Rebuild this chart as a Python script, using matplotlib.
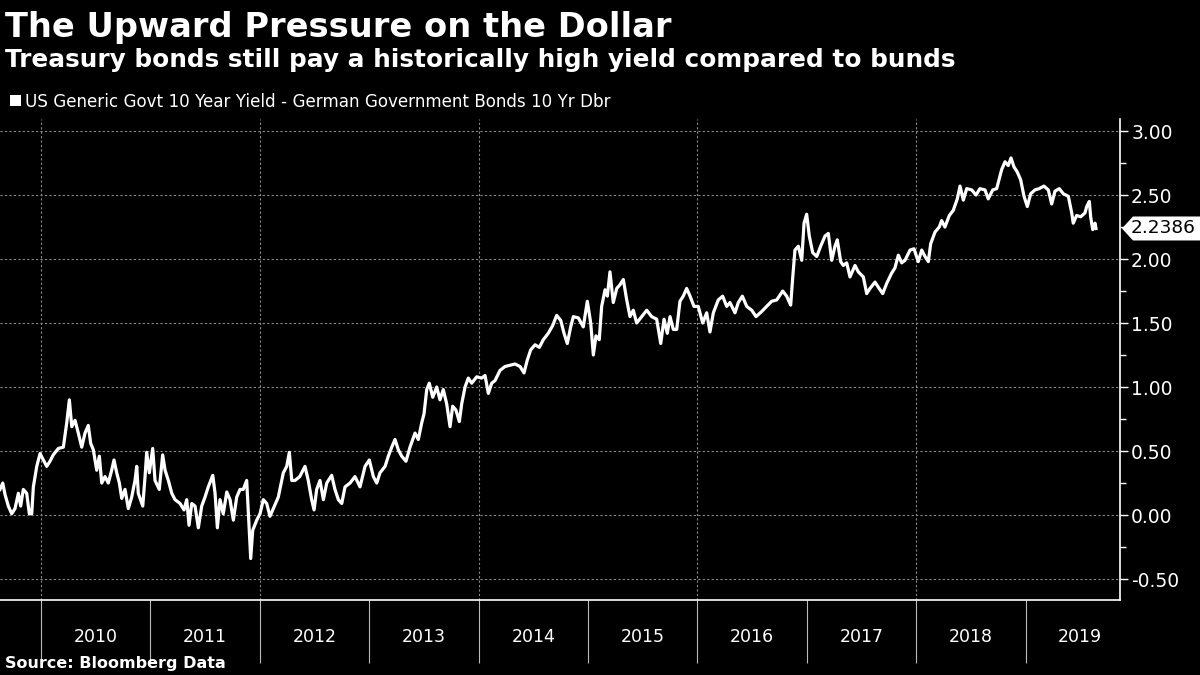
import matplotlib
matplotlib.use("Agg")
import matplotlib.pyplot as plt
import matplotlib.transforms as mtransforms
from matplotlib.patches import Polygon, Rectangle
from matplotlib.ticker import MultipleLocator, FixedLocator, NullFormatter

# spread in percentage points, x is decimal year
t = [2009.625, 2009.650, 2009.671, 2009.701, 2009.732, 2009.762, 2009.793, 2009.814, 2009.838, 2009.869,
     2009.893, 2009.915, 2009.930, 2009.961, 2009.991, 2010.021, 2010.052, 2010.082, 2010.112, 2010.158,
     2010.204, 2010.235, 2010.259, 2010.281, 2010.311, 2010.341, 2010.372, 2010.402, 2010.432, 2010.454,
     2010.478, 2010.509, 2010.533, 2010.555, 2010.585, 2010.615, 2010.646, 2010.667, 2010.692, 2010.716,
     2010.738, 2010.768, 2010.798, 2010.829, 2010.859, 2010.875, 2010.889, 2010.930, 2010.951, 2010.966,
     2010.990, 2011.021, 2011.042, 2011.081, 2011.112, 2011.134, 2011.164, 2011.195, 2011.225, 2011.271,
     2011.307, 2011.332, 2011.353, 2011.378, 2011.408, 2011.438, 2011.469, 2011.499, 2011.529, 2011.570,
     2011.591, 2011.612, 2011.636, 2011.666, 2011.698, 2011.728, 2011.758, 2011.789, 2011.819, 2011.849,
     2011.880, 2011.904, 2011.917, 2011.935, 2011.972, 2012.002, 2012.032, 2012.063, 2012.093, 2012.123,
     2012.169, 2012.215, 2012.246, 2012.270, 2012.292, 2012.322, 2012.365, 2012.413, 2012.443, 2012.474,
     2012.496, 2012.520, 2012.550, 2012.581, 2012.612, 2012.657, 2012.687, 2012.718, 2012.749, 2012.779,
     2012.825, 2012.870, 2012.916, 2012.962, 2013.001, 2013.038, 2013.069, 2013.099, 2013.145, 2013.175,
     2013.206, 2013.236, 2013.266, 2013.297, 2013.336, 2013.373, 2013.419, 2013.449, 2013.480, 2013.501,
     2013.526, 2013.549, 2013.581, 2013.617, 2013.647, 2013.677, 2013.708, 2013.739, 2013.763, 2013.793,
     2013.824, 2013.846, 2013.876, 2013.906, 2013.937, 2013.983, 2014.028, 2014.059, 2014.089, 2014.120,
     2014.150, 2014.196, 2014.241, 2014.287, 2014.333, 2014.379, 2014.415, 2014.445, 2014.476, 2014.516,
     2014.555, 2014.592, 2014.637, 2014.677, 2014.714, 2014.751, 2014.781, 2014.811, 2014.842, 2014.866,
     2014.912, 2014.957, 2014.994, 2015.025, 2015.049, 2015.073, 2015.103, 2015.125, 2015.156, 2015.177,
     2015.201, 2015.231, 2015.263, 2015.293, 2015.323, 2015.354, 2015.384, 2015.414, 2015.445, 2015.491,
     2015.537, 2015.582, 2015.628, 2015.665, 2015.695, 2015.725, 2015.750, 2015.780, 2015.811, 2015.841,
     2015.871, 2015.902, 2015.933, 2015.969, 2016.008, 2016.049, 2016.085, 2016.115, 2016.146, 2016.191,
     2016.231, 2016.268, 2016.298, 2016.344, 2016.374, 2016.411, 2016.451, 2016.497, 2016.536, 2016.588,
     2016.634, 2016.679, 2016.725, 2016.780, 2016.816, 2016.853, 2016.871, 2016.892, 2016.923, 2016.954,
     2016.975, 2016.999, 2017.023, 2017.054, 2017.091, 2017.127, 2017.167, 2017.197, 2017.228, 2017.258,
     2017.279, 2017.310, 2017.334, 2017.365, 2017.395, 2017.441, 2017.471, 2017.517, 2017.548, 2017.578,
     2017.624, 2017.654, 2017.694, 2017.731, 2017.776, 2017.806, 2017.837, 2017.868, 2017.898, 2017.944,
     2017.980, 2018.019, 2018.051, 2018.081, 2018.111, 2018.133, 2018.172, 2018.211, 2018.233, 2018.263,
     2018.303, 2018.339, 2018.376, 2018.401, 2018.431, 2018.462, 2018.508, 2018.547, 2018.583, 2018.629,
     2018.659, 2018.700, 2018.736, 2018.760, 2018.782, 2018.812, 2018.842, 2018.867, 2018.894, 2018.924,
     2018.955, 2018.986, 2019.016, 2019.047, 2019.086, 2019.125, 2019.168, 2019.208, 2019.239, 2019.269,
     2019.308, 2019.345, 2019.391, 2019.422, 2019.436, 2019.467, 2019.504, 2019.543, 2019.559, 2019.583,
     2019.595, 2019.614, 2019.635, 2019.644]

spread = [0.20, 0.25, 0.16, 0.07, 0.01, 0.05, 0.17, 0.07, 0.20, 0.17,
          0.01, 0.01, 0.22, 0.38, 0.48, 0.43, 0.38, 0.42, 0.47, 0.52,
          0.53, 0.72, 0.90, 0.69, 0.74, 0.64, 0.53, 0.64, 0.70, 0.56,
          0.51, 0.35, 0.46, 0.25, 0.30, 0.25, 0.35, 0.43, 0.33, 0.25,
          0.13, 0.20, 0.05, 0.14, 0.27, 0.38, 0.17, 0.07, 0.30, 0.49,
          0.33, 0.52, 0.27, 0.20, 0.47, 0.35, 0.27, 0.17, 0.12, 0.09,
          0.04, 0.12, -0.08, 0.09, 0.07, -0.10, 0.07, 0.14, 0.22, 0.31,
          0.17, -0.10, 0.12, 0.01, 0.18, 0.12, -0.04, 0.14, 0.20, 0.20,
          0.27, -0.12, -0.34, -0.12, -0.04, 0.01, 0.12, 0.09, -0.01, 0.05,
          0.14, 0.33, 0.38, 0.49, 0.27, 0.27, 0.30, 0.38, 0.27, 0.12,
          0.04, 0.20, 0.27, 0.12, 0.25, 0.31, 0.20, 0.12, 0.09, 0.22,
          0.25, 0.30, 0.22, 0.38, 0.43, 0.30, 0.25, 0.33, 0.38, 0.46,
          0.53, 0.59, 0.51, 0.46, 0.42, 0.53, 0.64, 0.59, 0.72, 0.79,
          0.98, 1.03, 0.92, 1.00, 0.90, 0.98, 0.87, 0.69, 0.85, 0.82,
          0.73, 0.87, 1.00, 1.07, 1.03, 1.08, 1.07, 1.09, 0.95, 1.03,
          1.05, 1.13, 1.16, 1.17, 1.18, 1.16, 1.11, 1.21, 1.29, 1.33,
          1.31, 1.37, 1.42, 1.48, 1.56, 1.52, 1.42, 1.34, 1.47, 1.55,
          1.54, 1.47, 1.67, 1.50, 1.25, 1.40, 1.37, 1.63, 1.76, 1.71,
          1.90, 1.66, 1.77, 1.80, 1.84, 1.68, 1.55, 1.60, 1.50, 1.55,
          1.60, 1.55, 1.53, 1.34, 1.53, 1.42, 1.55, 1.45, 1.45, 1.67,
          1.71, 1.77, 1.71, 1.63, 1.63, 1.50, 1.58, 1.43, 1.58, 1.68,
          1.71, 1.63, 1.66, 1.58, 1.66, 1.71, 1.63, 1.60, 1.55, 1.59,
          1.63, 1.67, 1.68, 1.75, 1.71, 1.64, 1.85, 2.07, 2.10, 1.99,
          2.28, 2.35, 2.18, 2.05, 2.02, 2.10, 2.18, 2.20, 1.99, 2.10,
          2.15, 1.98, 1.95, 1.97, 1.86, 1.95, 1.90, 1.86, 1.73, 1.77,
          1.82, 1.78, 1.73, 1.81, 1.89, 1.93, 2.03, 1.97, 1.99, 2.07,
          2.08, 1.98, 2.07, 2.02, 1.98, 2.12, 2.21, 2.25, 2.30, 2.25,
          2.34, 2.38, 2.47, 2.57, 2.46, 2.55, 2.54, 2.50, 2.55, 2.54,
          2.47, 2.54, 2.55, 2.63, 2.70, 2.76, 2.73, 2.79, 2.72, 2.68,
          2.62, 2.49, 2.41, 2.51, 2.54, 2.55, 2.57, 2.54, 2.43, 2.53,
          2.55, 2.51, 2.49, 2.36, 2.28, 2.34, 2.33, 2.36, 2.41, 2.45,
          2.33, 2.23, 2.28, 2.2386]

years = [2010, 2011, 2012, 2013, 2014, 2015, 2016, 2017, 2018, 2019]
yticks = [-0.5, 0.0, 0.5, 1.0, 1.5, 2.0, 2.5, 3.0]
last_label = "2.2386"

title = "The Upward Pressure on the Dollar"
subtitle = "Treasury bonds still pay a historically high yield compared to bunds"
legend_label = "US Generic Govt 10 Year Yield - German Government Bonds 10 Yr Dbr"
source = "Source: Bloomberg Data"

plt.rcParams['font.family'] = ['DejaVu Sans']

fig = plt.figure(figsize=(12, 6.75), dpi=100, facecolor="black")
ax = fig.add_axes([0.0, 0.1111, 0.9333, 0.7126], facecolor="black")

ax.plot(t, spread, color="white", linewidth=2.3, solid_joinstyle="round")

ax.set_xlim(2009.625, 2019.863)
ax.set_ylim(-0.664, 3.094)

# y axis on the right
ax.yaxis.tick_right()
ax.set_yticks(yticks)
ax.set_yticklabels([f"{v:.2f}" for v in yticks])
ax.yaxis.set_minor_locator(MultipleLocator(0.25))
ax.tick_params(axis="y", which="major", colors="white", labelcolor="white",
               labelsize=13.5, length=6, width=1, direction="out", pad=2)
ax.tick_params(axis="y", which="minor", colors="white", length=4, width=1)

# year separators below the axis, labels centred in each year
ax.set_xticks(years)
ax.xaxis.set_major_formatter(NullFormatter())
ax.xaxis.set_minor_locator(FixedLocator([y + 0.5 for y in years]))
ax.set_xticklabels([str(y) for y in years], minor=True)
ax.tick_params(axis="x", which="major", colors="#bbbbbb", length=45, width=0.8, direction="out")
ax.tick_params(axis="x", which="minor", length=0, labelcolor="white", labelsize=12.5, pad=20)

for s in ["top", "left"]:
    ax.spines[s].set_visible(False)
for s in ["right", "bottom"]:
    ax.spines[s].set_color("white")
    ax.spines[s].set_linewidth(1.2)

# dotted grid
for v in yticks:
    ax.axhline(v, color="#8a8a8a", linewidth=0.8, linestyle=(0, (2, 2)), zorder=0)
for y in years[::2]:
    ax.axvline(y, color="#8a8a8a", linewidth=0.8, linestyle=(0, (2, 2)), zorder=0)

# last value tag, sizes in inches from the last point on the right spine
anchor = mtransforms.blended_transform_factory(ax.transAxes, ax.transData)
tag_tr = fig.dpi_scale_trans + mtransforms.ScaledTranslation(1.0, spread[-1], anchor)
tag = Polygon([(0.02, 0.0), (0.13, 0.12), (0.82, 0.12), (0.82, -0.12), (0.13, -0.12)],
              closed=True, facecolor="white", edgecolor="none", transform=tag_tr, clip_on=False)
ax.add_patch(tag)
ax.text(0.435, 0.0, last_label, transform=tag_tr, clip_on=False,
        fontsize=13.3, color="black", ha="center", va="center")

# titles
fig.text(0.004, 0.945, title, color="white", fontsize=24.2, fontweight="bold", ha="left", va="baseline")
fig.text(0.004, 0.901, subtitle, color="white", fontsize=17.8, fontweight="bold", ha="left", va="baseline")
fig.patches.append(Rectangle((0.0085, 0.843), 0.009, 0.016, transform=fig.transFigure,
                             facecolor="white", edgecolor="none"))
fig.text(0.021, 0.842, legend_label, color="white", fontsize=12.1, ha="left", va="baseline")
fig.text(0.004, 0.010, source, color="white", fontsize=11.5, fontweight="bold", ha="left", va="baseline")

fig.savefig("out.png", dpi=100, facecolor="black")
